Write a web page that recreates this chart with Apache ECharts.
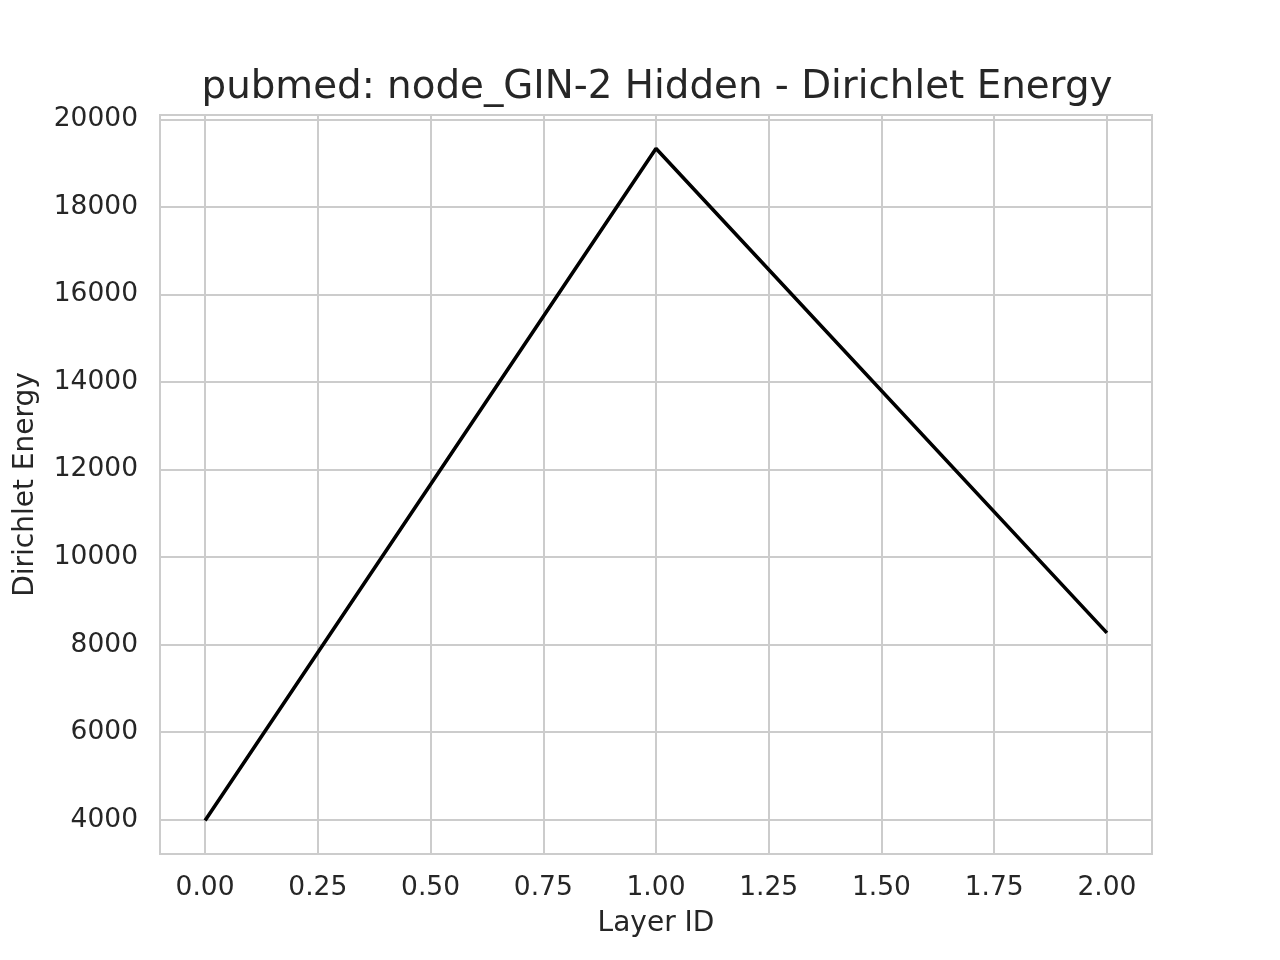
<!DOCTYPE html>
<html>
<head>
<meta charset="utf-8">
<script src="https://cdn.jsdelivr.net/npm/echarts@6/dist/echarts.min.js"></script>
<style>
  html, body { margin: 0; padding: 0; background: #fff; }
  #chart { width: 1280px; height: 960px; }
</style>
</head>
<body>
<div id="chart"></div>
<script>
const layerIds = [0, 1, 2];
const energy = [3984, 19331, 8268];
const xTicks = [0, 0.25, 0.5, 0.75, 1, 1.25, 1.5, 1.75, 2];
const yTicks = [4000, 6000, 8000, 10000, 12000, 14000, 16000, 18000, 20000];

const text = '#262626';
const grid = '#cccccc';
const font = 'DejaVu Sans';

const chart = echarts.init(document.getElementById('chart'));
chart.setOption({
  backgroundColor: '#fff',
  animation: false,
  title: {
    text: 'pubmed: node_GIN-2 Hidden - Dirichlet Energy',
    left: 652,
    textAlign: 'center',
    top: 63,
    textStyle: { color: text, fontFamily: font, fontSize: 38.8, fontWeight: 'normal' }
  },
  grid: { left: 160, right: 128, top: 115, bottom: 106, show: true, borderColor: grid, borderWidth: 2 },
  xAxis: {
    type: 'value',
    min: -0.1,
    max: 2.1,
    name: 'Layer ID',
    nameLocation: 'middle',
    nameGap: 56,
    nameTextStyle: { color: text, fontFamily: font, fontSize: 28 },
    axisLine: { show: false },
    axisTick: { show: false, customValues: xTicks },
    axisLabel: {
      customValues: xTicks,
      color: text, fontFamily: font, fontSize: 26.5, margin: 21,
      formatter: (v) => v.toFixed(2)
    },
    splitLine: { show: true, lineStyle: { color: grid, width: 2 } }
  },
  yAxis: {
    type: 'value',
    min: 3217,
    max: 20098,
    name: 'Dirichlet Energy',
    nameLocation: 'middle',
    nameGap: 120,
    nameTextStyle: { color: text, fontFamily: font, fontSize: 28 },
    axisLine: { show: false },
    axisTick: { show: false, customValues: yTicks },
    axisLabel: {
      customValues: yTicks,
      color: text, fontFamily: font, fontSize: 26.5, margin: 22,
      padding: [4, 0, 0, 0],
      formatter: (v) => String(v)
    },
    splitLine: { show: true, lineStyle: { color: grid, width: 2 } }
  },
  series: [{
    type: 'line',
    data: layerIds.map((x, i) => [x, energy[i]]),
    symbol: 'none',
    lineStyle: { color: '#000', width: 3.6 }
  }]
});
</script>
</body>
</html>
